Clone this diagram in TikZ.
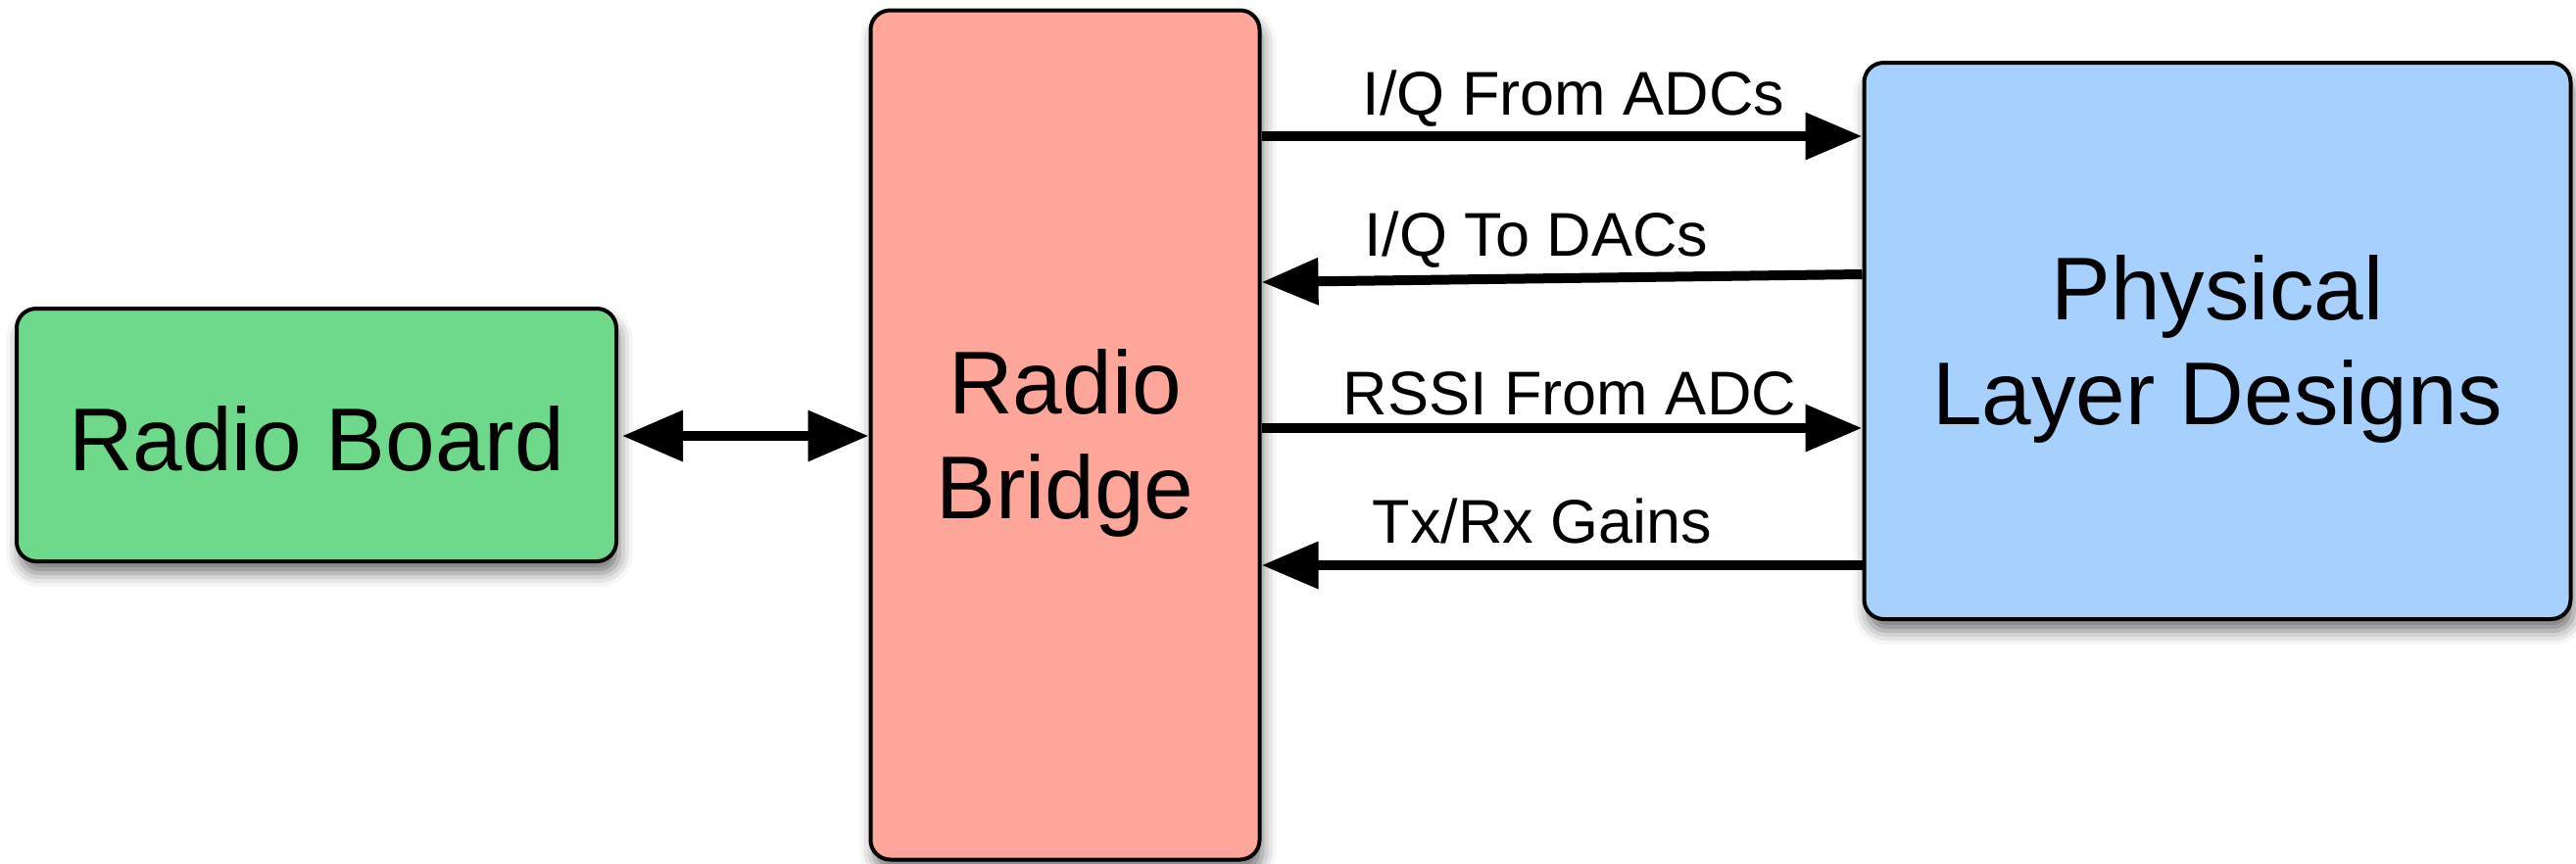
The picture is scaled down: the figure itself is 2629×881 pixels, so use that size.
\documentclass[tikz,border=0pt]{standalone}
\usepackage{fontspec}
\setmainfont{Liberation Sans}
\usetikzlibrary{arrows.meta,shadows.blur}
\definecolor{boardgreen}{RGB}{110,217,138}
\definecolor{bridgepink}{RGB}{254,166,153}
\definecolor{phyblue}{RGB}{166,208,253}
\tikzset{
  blockbox/.style={draw=black, line width=4pt, rounded corners=20pt, inner sep=0pt,
    blur shadow={shadow xshift=3pt, shadow yshift=-12pt, shadow blur radius=14pt, shadow opacity=55}},
  boxtext/.style={align=center, inner sep=0pt, font=\fontsize{91}{107}\selectfont},
  sig/.style={line width=10pt, -{Triangle[length=58pt,width=46pt]}},
  bisig/.style={line width=10pt, {Triangle[length=62pt,width=50pt]}-{Triangle[length=62pt,width=50pt]}},
  siglabel/.style={font=\fontsize{63}{70}\selectfont, inner sep=0pt}
}
\begin{document}
\begin{tikzpicture}[x=1pt,y=-1pt]
\useasboundingbox (0,0) rectangle (2629,881);
\node[blockbox, fill=boardgreen, minimum width=612pt, minimum height=258pt] (board) at (323,444) {};
\node[blockbox, fill=bridgepink, minimum width=397pt, minimum height=867pt] (bridge) at (1087,444) {};
\node[blockbox, fill=phyblue, minimum width=721pt, minimum height=568pt] (phy) at (2263,348) {};

\node[boxtext] (boardtext) at ([yshift=-4pt]board.center) {Radio Board};
\node[boxtext] (bridgetext) at ([yshift=-8pt]bridge.center) {Radio\\Bridge};
\node[boxtext] (phytext) at ([yshift=-8pt]phy.center) {Physical\\Layer Designs};

\draw[bisig] (board.east) ++(4pt,-1pt) coordinate (bl) -- (bl -| bridge.west);

\draw[sig] (bridge.east |- 0,139) -- (phy.west |- 0,139);
\draw[sig] (phy.west |- 0,280) -- (bridge.east |- 0,288);
\draw[sig] (bridge.east |- 0,437) -- (phy.west |- 0,437);
\draw[sig] (phy.west |- 0,577) -- (bridge.east |- 0,577);

\node[siglabel] (l1) at (1606,101) {I/Q From ADCs};
\node[siglabel] (l2) at (1568,245) {I/Q To DACs};
\node[siglabel] (l3) at (1602,402) {RSSI From ADC};
\node[siglabel] (l4) at (1574,532) {Tx/Rx Gains};
\end{tikzpicture}
\end{document}
